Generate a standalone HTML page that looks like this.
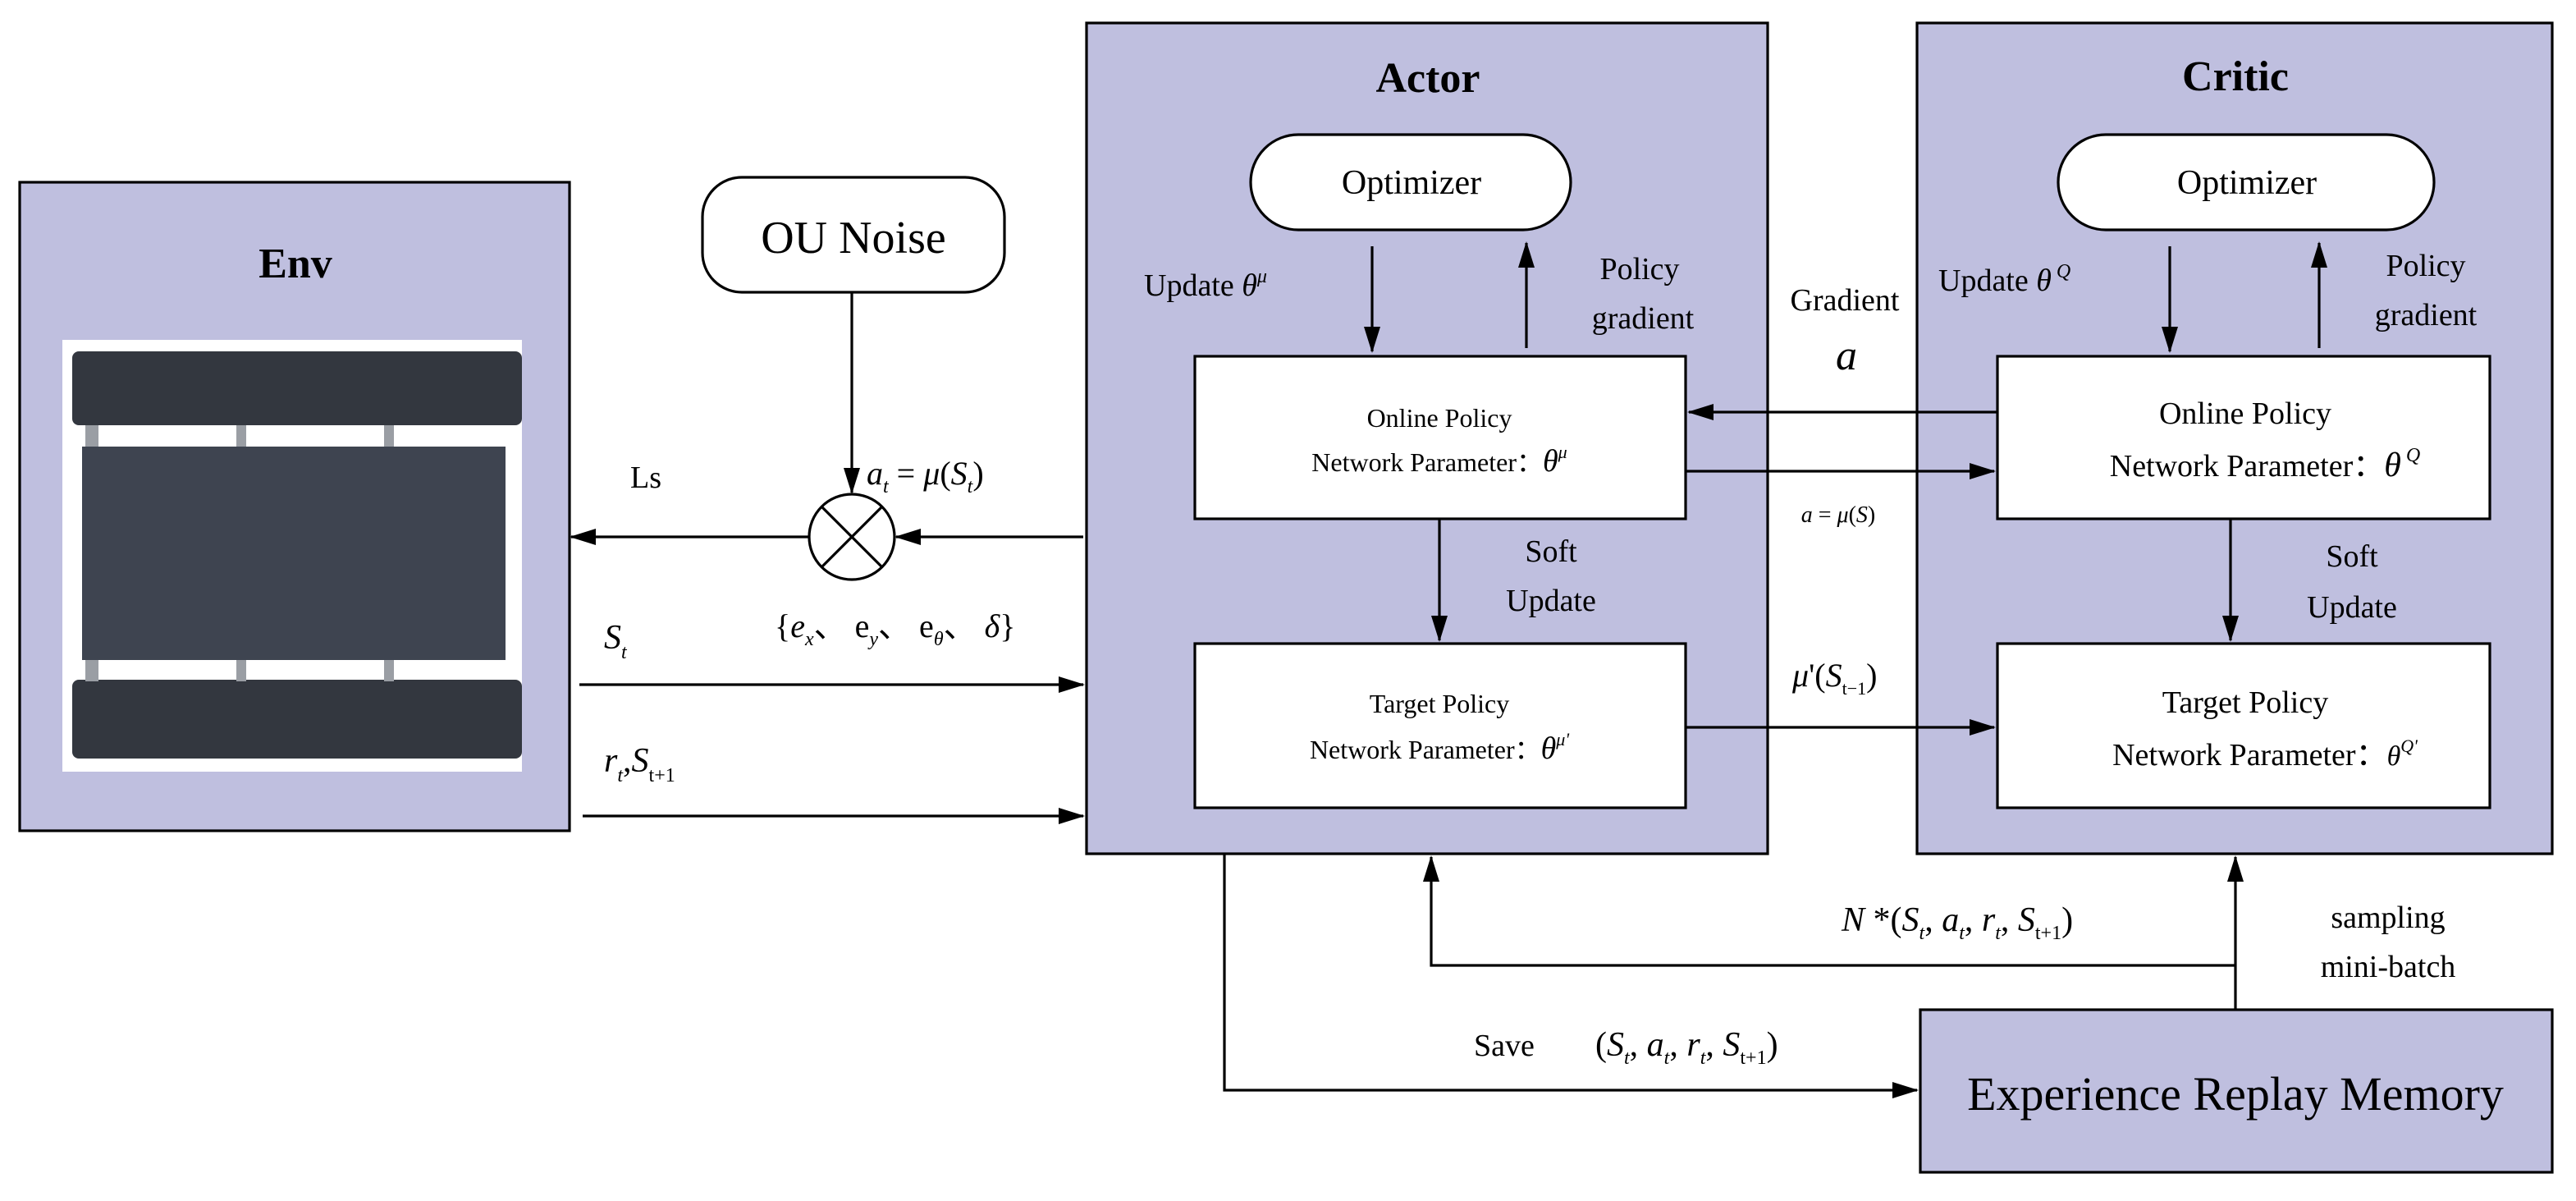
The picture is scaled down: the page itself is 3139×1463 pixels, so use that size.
<!DOCTYPE html>
<html><head><meta charset="utf-8"><style>
html,body{margin:0;padding:0;background:#fff;}
svg{display:block;}
text{font-family:"Liberation Serif",serif;fill:#000;}
.it{font-style:italic;}
</style></head><body>
<svg width="3139" height="1463" viewBox="0 0 1569.5 731.5" xmlns="http://www.w3.org/2000/svg">
<defs>
<marker id="ar" markerWidth="16" markerHeight="10" refX="15" refY="5" orient="auto" markerUnits="userSpaceOnUse">
<path d="M0,0 L16,5 L0,10 Z" fill="#000"/></marker>
</defs>
<g stroke="#000" stroke-width="1.6">
<rect x="12" y="111" width="335" height="395" fill="#bfbfdf"/>
<rect x="662" y="14" width="415" height="506" fill="#bfbfdf"/>
<rect x="1168" y="14" width="387" height="506" fill="#bfbfdf"/>
<rect x="1170" y="615" width="385" height="99" fill="#bfbfdf"/>
<rect x="428" y="108" width="184" height="70" rx="24" fill="#fff"/>
<rect x="762" y="82" width="195" height="58" rx="29" fill="#fff"/>
<rect x="1254" y="82" width="229" height="58" rx="29" fill="#fff"/>
<rect x="728" y="217" width="299" height="99" fill="#fff"/>
<rect x="728" y="392" width="299" height="100" fill="#fff"/>
<rect x="1217" y="217" width="300" height="99" fill="#fff"/>
<rect x="1217" y="392" width="300" height="100" fill="#fff"/>
<circle cx="519" cy="327" r="26" fill="#fff"/>
<line x1="501" y1="309" x2="537" y2="345"/>
<line x1="537" y1="309" x2="501" y2="345"/>
</g>
<rect x="38" y="207" width="280" height="263" fill="#fff"/>
<rect x="44" y="214" width="274" height="45" rx="4" fill="#33373f"/>
<rect x="44" y="414" width="274" height="48" rx="4" fill="#33373f"/>
<rect x="52" y="259" width="8" height="14" fill="#9a9ea4"/><rect x="52" y="402" width="8" height="13" fill="#9a9ea4"/>
<rect x="144" y="259" width="6" height="14" fill="#9a9ea4"/><rect x="144" y="402" width="6" height="13" fill="#9a9ea4"/>
<rect x="234" y="259" width="6" height="14" fill="#9a9ea4"/><rect x="234" y="402" width="6" height="13" fill="#9a9ea4"/>
<rect x="50" y="272" width="258" height="130" fill="#3e4450"/>
<g stroke="#000" stroke-width="1.6" fill="none" marker-end="url(#ar)">
<line x1="519" y1="178" x2="519" y2="300"/>
<line x1="660" y1="327" x2="546" y2="327"/>
<line x1="493" y1="327" x2="348" y2="327"/>
<line x1="353" y1="417" x2="660" y2="417"/>
<line x1="355" y1="497" x2="660" y2="497"/>
<line x1="836" y1="150" x2="836" y2="214"/>
<line x1="930" y1="212" x2="930" y2="148"/>
<line x1="1322" y1="150" x2="1322" y2="214"/>
<line x1="1413" y1="212" x2="1413" y2="148"/>
<line x1="877" y1="316" x2="877" y2="390"/>
<line x1="1359" y1="316" x2="1359" y2="390"/>
<line x1="1217" y1="251" x2="1029" y2="251"/>
<line x1="1027" y1="287" x2="1215" y2="287"/>
<line x1="1027" y1="443" x2="1215" y2="443"/>
<polyline points="746,520 746,664 1168,664"/>
<line x1="1362" y1="615" x2="1362" y2="522"/>
<polyline points="1362,588 872,588 872,522"/>
</g>
<text x="180" y="169" font-size="26" font-weight="bold" text-anchor="middle">Env</text>
<text x="870" y="56" font-size="26" font-weight="bold" text-anchor="middle">Actor</text>
<text x="1362" y="55" font-size="26" font-weight="bold" text-anchor="middle">Critic</text>
<text x="520" y="154" font-size="28" text-anchor="middle">OU Noise</text>
<text x="860" y="118" font-size="21" text-anchor="middle">Optimizer</text>
<text x="1369" y="118" font-size="21" text-anchor="middle">Optimizer</text>
<text x="384" y="297" font-size="19">Ls</text>
<text x="528" y="295" font-size="20" class="it">a<tspan font-size="12" dy="5">t</tspan><tspan dy="-5" font-style="normal"> = </tspan>μ<tspan font-style="normal">(</tspan>S<tspan font-size="12" dy="5">t</tspan><tspan dy="-5" font-style="normal">)</tspan></text>
<text x="472" y="388" font-size="20">{<tspan class="it">e</tspan><tspan font-size="12" dy="5" class="it">x</tspan><tspan dy="-5">、 e</tspan><tspan font-size="12" dy="5" class="it">y</tspan><tspan dy="-5">、 e</tspan><tspan font-size="12" dy="5" class="it">θ</tspan><tspan dy="-5">、 </tspan><tspan class="it">δ</tspan>}</text>
<text x="368" y="395" font-size="21" class="it">S<tspan font-size="12" dy="6">t</tspan></text>
<text x="368" y="470" font-size="21" class="it">r<tspan font-size="12" dy="6">t</tspan><tspan dy="-6" font-style="normal">,</tspan>S<tspan font-size="12" dy="6" font-style="normal">t+1</tspan></text>
<text x="697" y="180" font-size="19">Update <tspan class="it">θ</tspan><tspan font-size="12" dy="-8" class="it">μ</tspan></text>
<text x="999" y="170" font-size="19" text-anchor="middle">Policy</text>
<text x="1001" y="200" font-size="19" text-anchor="middle">gradient</text>
<text x="1181" y="177" font-size="19">Update <tspan class="it">θ</tspan><tspan font-size="12" dy="-8" class="it"> Q</tspan></text>
<text x="1478" y="168" font-size="19" text-anchor="middle">Policy</text>
<text x="1478" y="198" font-size="19" text-anchor="middle">gradient</text>
<text x="1124" y="189" font-size="19" text-anchor="middle">Gradient</text>
<text x="1125" y="225" font-size="26" class="it" text-anchor="middle">a</text>
<text x="877" y="260" font-size="16" text-anchor="middle">Online Policy</text>
<text x="877" y="287" font-size="16" text-anchor="middle">Network Parameter：<tspan class="it" font-size="19">θ</tspan><tspan font-size="11" dy="-8" class="it">μ</tspan></text>
<text x="877" y="434" font-size="16" text-anchor="middle">Target Policy</text>
<text x="877" y="462" font-size="16" text-anchor="middle">Network Parameter：<tspan class="it" font-size="19">θ</tspan><tspan font-size="11" dy="-8" class="it">μ'</tspan></text>
<text x="1368" y="258" font-size="19" text-anchor="middle">Online Policy</text>
<text x="1380" y="290" font-size="19" text-anchor="middle">Network Parameter：<tspan class="it" font-size="21">θ</tspan><tspan font-size="12" dy="-9" class="it"> Q</tspan></text>
<text x="1368" y="434" font-size="19" text-anchor="middle">Target Policy</text>
<text x="1380" y="466" font-size="19" text-anchor="middle">Network Parameter：<tspan class="it" font-size="17">θ</tspan><tspan font-size="11" dy="-8" class="it">Q'</tspan></text>
<text x="945" y="342" font-size="19" text-anchor="middle">Soft</text>
<text x="945" y="372" font-size="19" text-anchor="middle">Update</text>
<text x="1433" y="345" font-size="19" text-anchor="middle">Soft</text>
<text x="1433" y="376" font-size="19" text-anchor="middle">Update</text>
<text x="1120" y="318" font-size="14" text-anchor="middle" class="it">a<tspan font-style="normal"> = </tspan>μ<tspan font-style="normal">(</tspan>S<tspan font-style="normal">)</tspan></text>
<text x="1092" y="418" font-size="20" class="it">μ<tspan font-style="normal">'(</tspan>S<tspan font-size="11" dy="5" font-style="normal">t−1</tspan><tspan dy="-5" font-style="normal">)</tspan></text>
<text x="1122" y="567" font-size="21" class="it">N<tspan font-style="normal"> *(</tspan>S<tspan font-size="12" dy="5">t</tspan><tspan dy="-5" font-style="normal">, </tspan>a<tspan font-size="12" dy="5">t</tspan><tspan dy="-5" font-style="normal">, </tspan>r<tspan font-size="12" dy="5">t</tspan><tspan dy="-5" font-style="normal">, </tspan>S<tspan font-size="12" dy="5" font-style="normal">t+1</tspan><tspan dy="-5" font-style="normal">)</tspan></text>
<text x="1455" y="565" font-size="19" text-anchor="middle">sampling</text>
<text x="1455" y="595" font-size="19" text-anchor="middle">mini-batch</text>
<text x="898" y="643" font-size="19">Save</text>
<text x="972" y="643" font-size="21" class="it"><tspan font-style="normal">(</tspan>S<tspan font-size="12" dy="5">t</tspan><tspan dy="-5" font-style="normal">, </tspan>a<tspan font-size="12" dy="5">t</tspan><tspan dy="-5" font-style="normal">, </tspan>r<tspan font-size="12" dy="5">t</tspan><tspan dy="-5" font-style="normal">, </tspan>S<tspan font-size="12" dy="5" font-style="normal">t+1</tspan><tspan dy="-5" font-style="normal">)</tspan></text>
<text x="1362" y="676" font-size="29" text-anchor="middle">Experience Replay Memory</text>
</svg>
</body></html>
